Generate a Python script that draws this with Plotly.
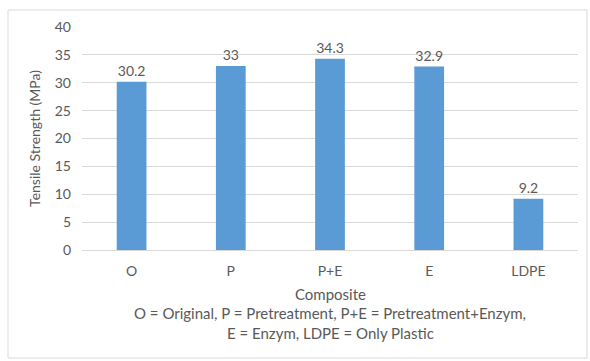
import plotly.graph_objects as go

categories = ["O", "P", "P+E", "E", "LDPE"]
tensile_strength = [30.2, 33, 34.3, 32.9, 9.2]
y_ticks = [0, 5, 10, 15, 20, 25, 30, 35, 40]

font_family = "Lato, 'Open Sans', sans-serif"
text_color = "#595959"

fig = go.Figure(
    go.Bar(
        x=categories,
        y=tensile_strength,
        marker=dict(color="#5B9BD5", line=dict(width=0)),
        width=0.3,
        text=[f"{v:g}" for v in tensile_strength],
        textposition="outside",
        textfont=dict(size=14, color=text_color, family=font_family),
        cliponaxis=False,
    )
)

fig.update_layout(
    width=590,
    height=361,
    margin=dict(l=82, r=12, t=27, b=111),
    paper_bgcolor="white",
    plot_bgcolor="white",
    font=dict(family=font_family, color=text_color, size=14),
    showlegend=False,
    xaxis=dict(
        showgrid=False,
        showline=True,
        linecolor="#d9d9d9",
        linewidth=1,
        ticks="",
        tickfont=dict(size=14, color=text_color),
        ticklabelstandoff=8,
    ),
    yaxis=dict(
        range=[0, 40],
        tickvals=y_ticks,
        showgrid=True,
        gridcolor="#d9d9d9",
        gridwidth=1,
        zeroline=False,
        showline=False,
        ticks="",
        tickfont=dict(size=14, color=text_color),
        ticklabelstandoff=10,
        title=dict(text="Tensile Strength (MPa)", font=dict(size=14, color=text_color), standoff=10),
    ),
    shapes=[
        dict(
            type="rect", xref="paper", yref="paper",
            x0=-74 / 496, x1=1 + 9 / 496, y0=-108 / 223, y1=1 + 17 / 223,
            line=dict(color="#d9d9d9", width=1),
        )
    ],
    annotations=[
        dict(text="Composite", xref="paper", yref="paper", x=0.5, y=0, yanchor="middle",
             yshift=-44, showarrow=False, font=dict(size=15, color=text_color)),
        dict(text="O = Original, P = Pretreatment, P+E = Pretreatment+Enzym,",
             xref="paper", yref="paper", x=0.5, y=0, yanchor="middle", yshift=-63,
             showarrow=False, font=dict(size=15, color=text_color)),
        dict(text="E = Enzym, LDPE = Only Plastic",
             xref="paper", yref="paper", x=0.5, y=0, yanchor="middle", yshift=-83,
             showarrow=False, font=dict(size=15, color=text_color)),
    ],
)

fig.write_html("out.html")
